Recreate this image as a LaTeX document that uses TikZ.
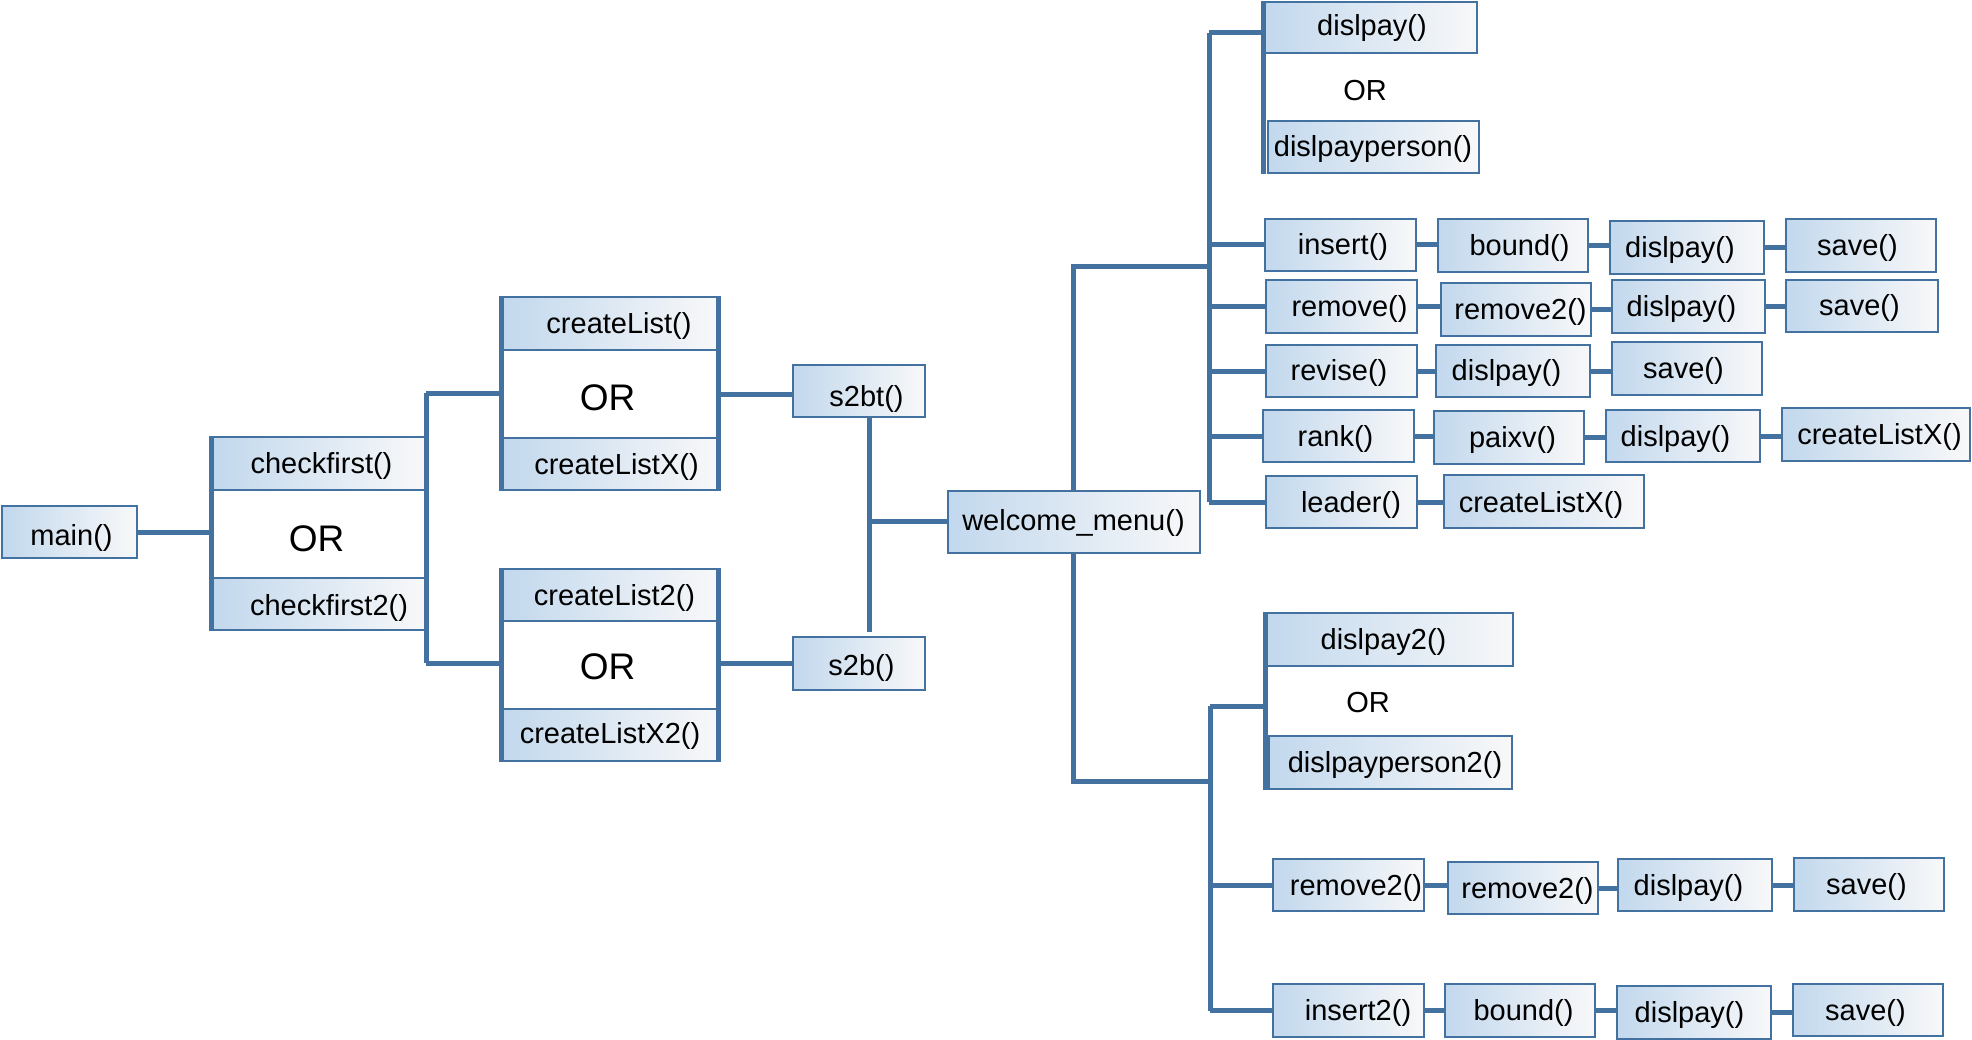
\documentclass[tikz,border=0pt]{standalone}
\usepackage{fontspec}
\setmainfont{Liberation Sans}
\definecolor{lineblue}{RGB}{67,114,160}
\definecolor{boxL}{RGB}{194,216,237}
\definecolor{boxM}{RGB}{229,237,246}
\definecolor{boxR}{RGB}{248,248,249}
% label set off by (dx, dy) from the centre of its box
\newcommand{\fnlabel}[3]{\hspace*{#1pt}\hspace*{#1pt}\raisebox{-#2pt}{#3}}
\begin{document}
\begin{tikzpicture}[x=1pt,y=-1pt,
  fn/.style={draw=lineblue, line width=2pt, left color=boxL, middle color=boxM, right color=boxR,
    inner sep=0pt, minimum height=52pt, text height=22pt, text depth=2pt,
    font=\fontsize{29}{34}\selectfont},
  conn/.style={draw=lineblue, line width=5pt},
  side/.style={draw=lineblue, line width=4.5pt},
  bigor/.style={inner sep=0pt, font=\fontsize{37}{44}\selectfont},
  smallor/.style={inner sep=0pt, font=\fontsize{29}{34}\selectfont}]
\useasboundingbox (0,0) rectangle (1972,1040);

% ---------- left part ----------
\node[fn, minimum width=135pt] (main) at (69,532) {\fnlabel{2.5}{3.5}{main()}};

\node[fn, minimum width=213pt, minimum height=53pt] (cf)  at (319,463.5) {\fnlabel{2.5}{0}{checkfirst()}};
\node[bigor] (orA) at (316.5,539) {OR};
\node[fn, minimum width=213pt] (cf2) at (319,604) {\fnlabel{10}{1.5}{checkfirst2()}};

\node[fn, minimum width=215pt, minimum height=53pt] (cl)  at (610,323.5) {\fnlabel{9}{0}{createList()}};
\node[bigor] (orB) at (607.5,398) {OR};
\node[fn, minimum width=215pt] (clx) at (610,464) {\fnlabel{6.5}{0}{createListX()}};

\node[fn, minimum width=215pt] (cl2)  at (610,595) {\fnlabel{4.5}{0}{createList2()}};
\node[bigor] (orC) at (607.5,667) {OR};
\node[fn, minimum width=215pt] (clx2) at (610,735) {\fnlabel{0}{-1.5}{createListX2()}};

\node[fn, minimum width=132pt] (sbt) at (858.5,391) {\fnlabel{8}{5}{s2bt()}};
\node[fn, minimum width=132pt, minimum height=53pt] (sb) at (858.5,663.5) {\fnlabel{3}{1.5}{s2b()}};

\node[fn, minimum width=252pt, minimum height=62pt] (wm) at (1073.5,521.5) {\fnlabel{0}{-1.5}{welcome\_menu()}};

% group sides
\draw[side] (cf.north west) -- (cf2.south west);
\draw[side] (cl.north west) -- (clx.south west);
\draw[side] (cl.north east) -- (clx.south east);
\draw[side] (cl2.north west) -- (clx2.south west);
\draw[side] (cl2.north east) -- (clx2.south east);

% left connectors
\coordinate (vA) at (426,393);
\coordinate (vB) at (426,663);
\coordinate (vC) at (869,632);
\coordinate (hS) at (718,394);
\draw[conn] (main.east) -- (main.east -| cf.west);
\draw[conn] (vA) -- (vB);
\draw[conn] (vA) -- (vA -| cl.west);
\draw[conn] (vB) -- (vB -| cl2.west);
\draw[conn] (hS) -- (hS -| sbt.west);
\draw[conn] (sb.west -| cl2.east) -- (sb.west);
\draw[conn] (vC |- sbt.south) -- (vC);
\draw[conn] (wm.west) -- (wm.west -| vC);

% ---------- upper right part ----------
\node[fn, minimum width=212pt, minimum height=51pt] (d1) at (1370.5,27.5) {\fnlabel{1.5}{-1.5}{dislpay()}};
\node[smallor] (orD) at (1365,91) {OR};
\node[fn, minimum width=211pt] (dp) at (1373,147) {\fnlabel{0}{0}{dislpayperson()}};

\node[fn, minimum width=151pt] (ins)  at (1340,245) {\fnlabel{3}{0}{insert()}};
\node[fn, minimum width=150pt, minimum height=53pt] (bnd)  at (1512.5,245.5) {\fnlabel{7}{0}{bound()}};
\node[fn, minimum width=154pt, minimum height=53pt] (dsp1) at (1686.5,247.5) {\fnlabel{-6.5}{0}{dislpay()}};
\node[fn, minimum width=150pt, minimum height=53pt] (sav1) at (1860.5,245.5) {\fnlabel{-3}{0}{save()}};

\node[fn, minimum width=151pt, minimum height=53pt] (rem)  at (1341,306.5) {\fnlabel{8.5}{0}{remove()}};
\node[fn, minimum width=150pt, minimum height=53pt] (rem2) at (1515.5,309.5) {\fnlabel{5}{0}{remove2()}};
\node[fn, minimum width=153pt, minimum height=53pt] (dsp2) at (1688,306.5) {\fnlabel{-6.5}{0}{dislpay()}};
\node[fn, minimum width=152pt] (sav2) at (1861.5,306) {\fnlabel{-2}{0}{save()}};

\node[fn, minimum width=151pt] (rev)  at (1341,371) {\fnlabel{-2}{0}{revise()}};
\node[fn, minimum width=154pt] (dsp3) at (1512.5,371) {\fnlabel{-6}{0}{dislpay()}};
\node[fn, minimum width=150pt, minimum height=53pt] (sav3) at (1686.5,368.5) {\fnlabel{-3}{0}{save()}};

\node[fn, minimum width=151pt] (rnk)  at (1338,436) {\fnlabel{-2.5}{0}{rank()}};
\node[fn, minimum width=150pt, minimum height=53pt] (pai)  at (1508.5,437.5) {\fnlabel{4}{0}{paixv()}};
\node[fn, minimum width=154pt] (dsp4) at (1682.5,436) {\fnlabel{-7}{0}{dislpay()}};
\node[fn, minimum width=188pt, minimum height=53pt] (clx3) at (1875.5,434.5) {\fnlabel{4}{0}{createListX()}};

\node[fn, minimum width=151pt] (ldr)  at (1341,502) {\fnlabel{10}{0}{leader()}};
\node[fn, minimum width=200pt, minimum height=53pt] (clx4) at (1543.5,501.5) {\fnlabel{-2.5}{1}{createListX()}};

\draw[side] (d1.north west) -- (d1.north west |- dp.south);

\coordinate (tA) at (1209,33);
\coordinate (tB) at (1209,502);
\coordinate (jA) at (1209,267);
\draw[conn] (tA) -- (tB);
\draw[conn] (tA) -- (tA -| d1.west);
\draw[conn] (wm.north) |- (jA);
\foreach \r in {ins,rem,rev,rnk,ldr} {
  \draw[conn] (\r.west -| tA) -- (\r.west);
}
\foreach \a/\b in {ins/bnd, bnd/dsp1, dsp1/sav1, rem/rem2, rem2/dsp2, dsp2/sav2,
                   rev/dsp3, dsp3/sav3, rnk/pai, pai/dsp4, dsp4/clx3, ldr/clx4} {
  \draw[conn] (\a.east) -- (\a.east -| \b.west);
}

% ---------- lower right part ----------
\node[fn, minimum width=246pt, minimum height=53pt] (d2) at (1389.5,639.5) {\fnlabel{-6}{0}{dislpay2()}};
\node[smallor] (orE) at (1368,703) {OR};
\node[fn, minimum width=243pt, minimum height=53pt] (dp2) at (1390,762.5) {\fnlabel{5}{0}{dislpayperson2()}};

\node[fn, minimum width=151pt] (ra)   at (1348,885) {\fnlabel{8}{0}{remove2()}};
\node[fn, minimum width=150pt] (rb)   at (1522.5,888) {\fnlabel{5}{0}{remove2()}};
\node[fn, minimum width=154pt] (dsp6) at (1694.5,885) {\fnlabel{-6}{0}{dislpay()}};
\node[fn, minimum width=150pt, minimum height=53pt] (sav6) at (1868.5,884.5) {\fnlabel{-2}{0}{save()}};

\node[fn, minimum width=151pt, minimum height=53pt] (in2)  at (1348,1010.5) {\fnlabel{10}{0}{insert2()}};
\node[fn, minimum width=150pt, minimum height=53pt] (bnd7) at (1519.5,1010.5) {\fnlabel{4}{0}{bound()}};
\node[fn, minimum width=154pt, minimum height=53pt] (dsp7) at (1693.5,1012.5) {\fnlabel{-4}{0}{dislpay()}};
\node[fn, minimum width=150pt] (sav7) at (1867.5,1010) {\fnlabel{-2}{0}{save()}};

\draw[side] (d2.north west) -- (d2.north west |- dp2.south);

\coordinate (lA) at (1210,706);
\coordinate (lB) at (1210,1011);
\coordinate (jB) at (1210,781);
\draw[conn] (lA) -- (lB);
\draw[conn] (lA) -- (lA -| d2.west);
\draw[conn] (wm.south) |- (jB);
\foreach \r in {ra,in2} {
  \draw[conn] (\r.west -| lA) -- (\r.west);
}
\foreach \a/\b in {ra/rb, rb/dsp6, dsp6/sav6, in2/bnd7, bnd7/dsp7, dsp7/sav7} {
  \draw[conn] (\a.east) -- (\a.east -| \b.west);
}
\end{tikzpicture}
\end{document}
